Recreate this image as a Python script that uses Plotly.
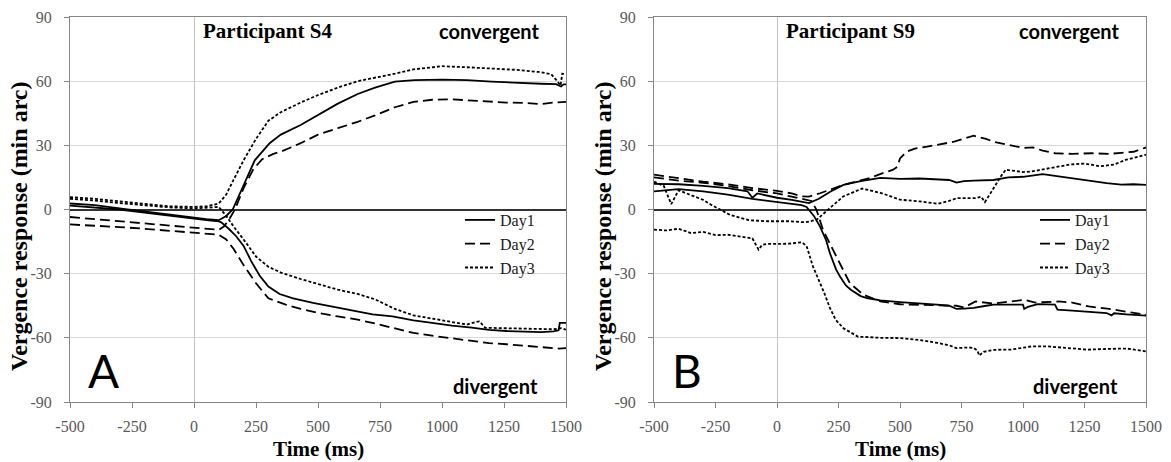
import plotly.graph_objects as go

# ---------------- data ----------------
# Panel A - Participant S4
A_day1_conv_t = [-500, -400, -300, -200, -100, 0, 50, 100, 130, 156, 200, 245, 305, 350, 430, 500, 580, 660, 730, 810, 890, 1000, 1100, 1200, 1300, 1400, 1460, 1480, 1490, 1500]
A_day1_conv_v = [2.8, 2, 0.5, -1, -2.5, -4, -4.5, -5, -3, 0, 11, 23, 31, 35, 39.5, 44, 49.5, 54, 57, 59.8, 60.5, 60.7, 60.5, 59.8, 59.2, 58.8, 58.6, 57.5, 58.5, 58.5]
A_day1_div_t = [-500, -400, -300, -200, -100, 0, 50, 100, 110, 140, 170, 200, 230, 265, 300, 345, 400, 480, 560, 640, 720, 800, 885, 960, 1040, 1120, 1190, 1260, 1330, 1400, 1450, 1470, 1475, 1500]
A_day1_div_v = [1.8, 1, 0, -1.5, -3, -4.5, -5, -5.5, -6, -9, -12.5, -17, -24, -31, -36, -39.5, -41.5, -43.7, -45.5, -47.5, -49, -50, -51.8, -53, -54.3, -55.2, -56.3, -56.8, -57, -57.3, -57, -56.5, -53, -53]
A_day2_conv_t = [-500, -400, -300, -200, -100, 0, 50, 100, 120, 140, 165, 200, 240, 275, 320, 360, 430, 500, 580, 660, 730, 810, 885, 960, 1040, 1110, 1190, 1260, 1340, 1400, 1450, 1500]
A_day2_conv_v = [-3.5, -4.5, -5.5, -6.5, -7.8, -8.8, -9.2, -9.5, -8, -5, 0, 10, 19, 23.5, 26, 27.5, 31, 35, 38, 41, 44, 47.8, 50.3, 51.3, 51.5, 51, 50.2, 50, 49.8, 49.3, 50, 50.3]
A_day2_div_t = [-500, -400, -300, -200, -100, 0, 50, 100, 130, 160, 200, 250, 300, 370, 430, 500, 580, 660, 730, 810, 885, 960, 1040, 1110, 1190, 1260, 1340, 1420, 1470, 1500]
A_day2_div_v = [-7, -7.5, -8.2, -9, -10, -10.8, -11.3, -11.8, -14, -18.5, -26, -34.5, -41.5, -44.5, -46.5, -48.3, -50, -51.5, -53.3, -55.5, -57.7, -59, -60.3, -61.5, -62.5, -63, -63.8, -64.8, -65, -64.8]
A_day3_conv_t = [-500, -400, -300, -200, -100, 0, 50, 100, 130, 160, 200, 250, 300, 350, 430, 500, 580, 660, 730, 810, 885, 960, 1000, 1100, 1200, 1300, 1390, 1440, 1465, 1478, 1485, 1500]
A_day3_conv_v = [5.8, 5, 3.8, 2.6, 1.5, 1.2, 1.5, 2.8, 7, 14, 23, 33, 41.5, 45.5, 50, 53.5, 57, 60, 61.5, 63.5, 65.5, 66.5, 67, 66.5, 66, 65.3, 64.3, 63.3, 60, 58, 63.5, 63.3]
A_day3_div_t = [-500, -400, -300, -200, -100, 0, 50, 100, 130, 160, 200, 250, 300, 350, 430, 500, 580, 660, 730, 810, 885, 960, 1040, 1100, 1140, 1150, 1175, 1250, 1350, 1450, 1480, 1500]
A_day3_div_v = [5, 4.2, 3, 2, 1, 0.5, 0.8, 1.2, -3, -8, -14, -22, -26.8, -29.5, -32.5, -35, -37.5, -39.5, -42, -46.5, -49.5, -51, -52.5, -53.8, -52.5, -52.3, -55.3, -55.5, -55.6, -56, -55.5, -56.2]

# Panel B - Participant S9
B_day1_conv_t = [-500, -400, -300, -200, -120, -100, -80, 0, 60, 100, 130, 170, 220, 270, 340, 420, 500, 580, 650, 700, 730, 760, 800, 880, 940, 1000, 1080, 1140, 1200, 1260, 1340, 1400, 1450, 1500]
B_day1_conv_v = [12, 11.8, 11, 10, 8.5, 5.5, 7.5, 5.5, 4.5, 3.5, 3, 5, 8.5, 11.5, 13.3, 14.8, 14.3, 14.5, 14, 13.8, 12.6, 13.3, 13.5, 13.8, 15, 15.3, 16.5, 15.5, 14.5, 13.5, 12.3, 11.6, 11.8, 11.5]
B_day1_div_t = [-500, -400, -300, -200, -100, 0, 50, 100, 120, 150, 175, 200, 215, 240, 256, 280, 300, 340, 370, 420, 500, 580, 650, 700, 730, 760, 800, 850, 880, 1000, 1005, 1020, 1060, 1130, 1140, 1200, 1260, 1340, 1360, 1370, 1420, 1500]
B_day1_div_v = [8.5, 9.5, 8.5, 7, 5, 3.5, 2.8, 2, 1.2, -3, -8, -14.5, -20.4, -28, -31.3, -35.5, -37.5, -40.5, -41.5, -42.5, -43.3, -43.8, -44.5, -45, -46.5, -46.3, -46, -45, -44.5, -44.5, -46.5, -45.5, -44.2, -44.5, -46.8, -47.3, -47.8, -48.4, -49.5, -48.5, -49, -49.6]
B_day2_conv_t = [-500, -400, -300, -200, -100, 0, 60, 100, 130, 175, 220, 270, 320, 380, 430, 470, 490, 500, 527, 560, 610, 660, 720, 800, 850, 880, 950, 1000, 1040, 1080, 1130, 1200, 1280, 1350, 1400, 1450, 1500]
B_day2_conv_v = [16.3, 14.7, 13, 11.8, 10, 8.7, 7.5, 6.2, 6, 7.6, 9.5, 11.5, 13, 14.8, 17, 18.5, 20, 23.9, 27, 28.5, 29.4, 30.5, 31.7, 34.5, 33, 31.7, 30, 28.8, 29, 27.5, 26.3, 26, 26.3, 26, 26.5, 27, 29]
B_day2_div_t = [-500, -400, -300, -200, -100, 0, 60, 100, 140, 160, 187, 215, 242, 270, 296, 350, 420, 500, 576, 650, 730, 760, 807, 880, 960, 1006, 1050, 1144, 1200, 1267, 1350, 1420, 1500]
B_day2_div_v = [15, 13.5, 12.5, 11, 9, 7.5, 6, 5, 4, 0, -9.5, -16, -22, -28.5, -34.4, -39.8, -43, -44.3, -44.5, -45, -45, -45.8, -43, -44, -43, -42.2, -43.5, -43, -43.5, -45.3, -46.5, -47.6, -49.2]
B_day3_conv_t = [-500, -460, -430, -400, -345, -300, -268, -191, -115, -38, 50, 116, 162, 208, 269, 346, 423, 500, 580, 653, 700, 730, 807, 830, 845, 870, 884, 910, 930, 1000, 1036, 1113, 1190, 1250, 1313, 1370, 1420, 1500]
B_day3_conv_v = [13, 11, 2.5, 9, 6.5, 4.5, 2.2, -2.5, -5, -5.5, -5.5, -6, -4.7, 0, 6.1, 9.8, 7.7, 4.6, 3.8, 2.7, 4, 5.3, 5.3, 6, 3.5, 8, 10.8, 15.5, 18.6, 17.5, 17.8, 19.4, 21, 21.5, 20.2, 21, 23.3, 25.6]
B_day3_div_t = [-500, -450, -400, -350, -300, -250, -200, -150, -100, -75, -60, -40, 0, 50, 100, 120, 146, 170, 192, 215, 238, 270, 300, 330, 361, 420, 500, 580, 653, 700, 730, 780, 800, 815, 822, 840, 884, 950, 991, 1036, 1100, 1190, 1260, 1344, 1420, 1500]
B_day3_div_v = [-9.4, -9.8, -9, -11, -10.5, -12, -11.8, -12.8, -13.5, -18.8, -16.5, -16.1, -16.1, -16, -15.3, -17, -26.6, -33, -39, -46, -51.5, -55.5, -57.7, -59.5, -59.6, -60, -60.1, -61, -62.4, -63.5, -64.8, -64.5, -64.8, -66, -68.3, -66.5, -65.6, -65.5, -64.8, -64, -64, -64.8, -65.5, -65.2, -65, -66.3]

day_names = ["Day1", "Day2", "Day3"]
x_ticks = [-500, -250, 0, 250, 500, 750, 1000, 1250, 1500]
y_ticks = [-90, -60, -30, 0, 30, 60, 90]
panel_titles = ["Participant S4", "Participant S9"]
panel_letters = ["A", "B"]

# ---------------- styling ----------------
W, H = 1171, 462
dash_styles = ["solid", "10px,5px", "3px,2px"]
SERIF = "Liberation Serif"
SANS = "Lato"
AX_GREY = "#868686"

panels = [
    [(A_day1_conv_t, A_day1_conv_v, A_day1_div_t, A_day1_div_v),
     (A_day2_conv_t, A_day2_conv_v, A_day2_div_t, A_day2_div_v),
     (A_day3_conv_t, A_day3_conv_v, A_day3_div_t, A_day3_div_v)],
    [(B_day1_conv_t, B_day1_conv_v, B_day1_div_t, B_day1_div_v),
     (B_day2_conv_t, B_day2_conv_v, B_day2_div_t, B_day2_div_v),
     (B_day3_conv_t, B_day3_conv_v, B_day3_div_t, B_day3_div_v)],
]

# plot area pixel boxes
x_px = [(70, 566), (654, 1146)]
y_px = (17, 402)

fig = go.Figure()
for p, series in enumerate(panels):
    xa = "x" if p == 0 else "x2"
    ya = "y" if p == 0 else "y2"
    leg = "legend" if p == 0 else "legend2"
    for d, (ct, cv, dt, dv) in enumerate(series):
        line = dict(color="black", width=1.8, dash=dash_styles[d])
        fig.add_trace(go.Scatter(x=ct, y=cv, mode="lines", name=day_names[d], line=line,
                                 xaxis=xa, yaxis=ya, legend=leg, legendgroup=f"{p}{d}",
                                 showlegend=True))
        fig.add_trace(go.Scatter(x=dt, y=dv, mode="lines", name=day_names[d], line=line,
                                 xaxis=xa, yaxis=ya, legend=leg, legendgroup=f"{p}{d}",
                                 showlegend=False))

def xaxis_cfg(p):
    return dict(domain=[x_px[p][0] / W, x_px[p][1] / W], range=[-500, 1500],
                tickvals=x_ticks, ticktext=[str(v) for v in x_ticks],
                showgrid=False, zeroline=True, zerolinecolor="#c4c4c4", zerolinewidth=1,
                showline=True, mirror=True, linecolor=AX_GREY, linewidth=1,
                ticks="outside", ticklen=5, tickcolor=AX_GREY, ticklabelstandoff=5,
                tickfont=dict(family=SERIF, size=16, color="#595959"),
                anchor="y" if p == 0 else "y2", fixedrange=True, automargin=False)

def yaxis_cfg(p):
    return dict(domain=[1 - y_px[1] / H, 1 - y_px[0] / H], range=[-90, 90],
                tickvals=y_ticks, ticktext=[str(v) for v in y_ticks],
                showgrid=True, gridcolor="#d9d9d9", gridwidth=1,
                zeroline=True, zerolinecolor="#333333", zerolinewidth=1.5,
                showline=True, mirror=True, linecolor=AX_GREY, linewidth=1,
                ticks="outside", ticklen=5, tickcolor=AX_GREY, ticklabelstandoff=9,
                tickfont=dict(family=SERIF, size=16, color="#595959"),
                anchor="x" if p == 0 else "x2", fixedrange=True, automargin=False)

annotations = []
for p in range(2):
    xr = "x" if p == 0 else "x2"
    yr = "y" if p == 0 else "y2"
    annotations += [
        dict(x=28, y=83.5, xref=xr, yref=yr, text=panel_titles[p], showarrow=False,
             xanchor="left", yanchor="middle",
             font=dict(family=SERIF, size=21, color="black", weight="bold")),
        dict(x=1400, y=83.5, xref=xr, yref=yr, text="convergent", showarrow=False,
             xanchor="right", yanchor="middle",
             font=dict(family=SANS, size=20, color="black", weight="bold")),
        dict(x=1395, y=-82.5, xref=xr, yref=yr, text="divergent", showarrow=False,
             xanchor="right", yanchor="middle",
             font=dict(family=SANS, size=20, color="black", weight="bold")),
        dict(x=-364, y=-75.5, xref=xr, yref=yr, text=panel_letters[p], showarrow=False,
             xanchor="center", yanchor="middle",
             font=dict(family=SANS, size=46, color="black")),
        # axis titles
        dict(x=(x_px[p][0] + x_px[p][1]) / 2 / W, y=1 - 449 / H, xref="paper", yref="paper",
             text="Time (ms)", showarrow=False, xanchor="center", yanchor="middle",
             font=dict(family=SERIF, size=21, color="black", weight="bold")),
        dict(x=(19 + 584 * p) / W, y=1 - 226 / H, xref="paper", yref="paper",
             text="Vergence response (min arc)", showarrow=False, textangle=-90,
             xanchor="center", yanchor="middle",
             font=dict(family=SERIF, size=24, color="black", weight="bold")),
    ]

legend_common = dict(bgcolor="rgba(0,0,0,0)", borderwidth=0, tracegroupgap=0,
                     font=dict(family=SERIF, size=16, color="#1a1a1a"),
                     xanchor="left", yanchor="top", itemwidth=30, itemclick=False)

fig.update_layout(
    width=W, height=H, margin=dict(l=0, r=0, t=0, b=0, autoexpand=False),
    paper_bgcolor="white", plot_bgcolor="white",
    xaxis=xaxis_cfg(0), yaxis=yaxis_cfg(0),
    xaxis2=xaxis_cfg(1), yaxis2=yaxis_cfg(1),
    legend=dict(x=460 / W, y=1 - 203 / H, **legend_common),
    legend2=dict(x=1035 / W, y=1 - 203 / H, **legend_common),
    annotations=annotations,
    showlegend=True,
)

fig.write_html("out.html", config={"displayModeBar": False},
               post_script="document.body.style.margin='0';document.body.style.overflow='hidden';")
